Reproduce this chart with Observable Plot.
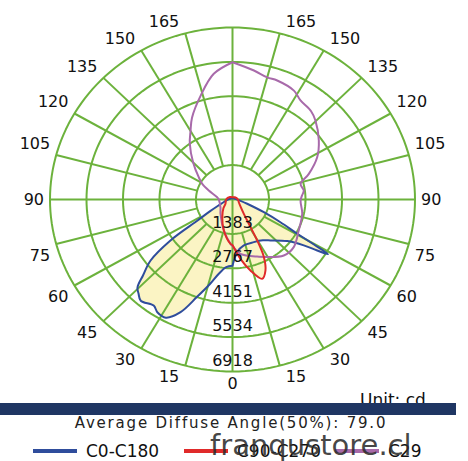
<!DOCTYPE html>
<html><head><meta charset="utf-8">
<script src="https://cdn.jsdelivr.net/npm/d3@7"></script>
<script src="https://cdn.jsdelivr.net/npm/@observablehq/plot@0.6"></script>
<style>
body{margin:0;background:#fff;font-family:"DejaVu Sans",Verdana,sans-serif;}
#wrap{position:relative;width:468px;height:461px;overflow:hidden;background:#fff;}
#chart{position:absolute;left:0;top:0;}
.abs{position:absolute;white-space:nowrap;}
.t17{font-size:17px;line-height:17px;color:#111;}
</style></head><body>
<div id="wrap">
  <div id="chart"></div>
  <div class="abs t17" id="unit" style="left:360px;top:391.5px;"></div>
  <div class="abs" style="left:0;top:403px;width:456px;height:12px;background:#1f3663;"></div>
  <div class="abs" id="avg" style="left:0;top:415.5px;width:462px;text-align:center;font-size:15px;line-height:15px;letter-spacing:1.8px;color:#222;"></div>
  <div id="legend"></div>
  <div class="abs" id="wm" style="left:210px;top:430.5px;font-size:29px;line-height:29px;color:rgba(45,45,45,0.88);"></div>
</div>
<script>
// ---- data ----
const maxCd = 6918;
const ringValues = [1383.6, 2767.2, 4150.8, 5534.4, 6918];
const ringLabels = ["1383", "2767", "4151", "5534", "6918"];
const spokeAngles = [15, 30, 45, 60, 75, 105, 120, 135, 150, 165];
const angleLabelsBottom = [15, 30, 45, 60, 75];
const angleLabelsTop = [105, 120, 135, 150, 165];
const seriesNames = ["C0-C180", "C90-C270", "C29"];
const seriesColors = ["#2f4d9c", "#e02a2a", "#a86aaa"];
const unitText = "Unit: cd";
const avgText = "Average Diffuse Angle(50%): 79.0";
const watermark = "franqustore.cl";

// C0 (right) / C180 (left)
const c0Angles  = [0, 4.8, 13.1, 25.2, 35, 41.2, 51.1, 55.7, 57.4, 58.7, 59.6, 60.7, 63.3, 66.7, 72.8, 80, 90, 120, 150, 180];
const c0Values  = [2663, 2124, 1896, 1896, 2006, 2186, 2663, 3272, 3812, 4234, 3597, 2816, 2034, 1294, 581, 311, 173, 83, 55, 42];
const c180Angles = [0, 5, 10, 14, 19, 23.5, 28, 32, 35, 40.5, 43.3, 45.5, 48, 51.7, 55, 57.5, 61, 65.6, 75, 90, 120, 150, 180];
const c180Values = [2663, 2733, 3044, 3494, 4151, 4939, 5382, 5361, 5209, 5355, 5195, 5050, 4566, 3957, 2871, 1570, 969, 581, 311, 173, 83, 55, 42];
// C90 (right) / C270 (left)
const c90Angles  = [0, 7.2, 13.4, 19.4, 23.6, 27.2, 29.2, 31.6, 36.7, 45, 65, 90, 135, 180];
const c90Values  = [1833, 2407, 2933, 3383, 3120, 2608, 2041, 1307, 719, 450, 263, 208, 125, 90];
const c270Angles = [0, 2.4, 14.8, 28.7, 45, 57, 90, 135, 180];
const c270Values = [1833, 1785, 1287, 809, 484, 318, 242, 138, 90];
// C29 (right) / opposite (left)
const c29Angles  = [0, 7.9, 22.2, 40.8, 50.5, 63.6, 77.7, 89, 93, 97.6, 103.7, 109.6, 117.9, 125.9, 135.3, 140, 147.1, 152, 160.5, 165, 171.1, 180];
const c29Values  = [1868, 2207, 2477, 2975, 3009, 2802, 2705, 2580, 2630, 2726, 2656, 3072, 3632, 4040, 4469, 4635, 4746, 4960, 5078, 5085, 5251, 5521];
const c209Angles = [0, 2.4, 14.8, 38.5, 54.5, 90, 98.8, 111.8, 118.7, 125, 135, 144.2, 150, 155, 164, 172, 180];
const c209Values = [1868, 1785, 1287, 733, 560, 519, 588, 969, 1307, 1563, 2110, 2767, 3182, 3632, 4358, 5105, 5521];

// ---- helpers ----
const rad = Math.PI / 180;
const pt = (side, g, v) => ({x: side * v * Math.sin(g * rad), y: -v * Math.cos(g * rad)});
function polygon(la, lv, ra, rv) {
  const p = [];
  for (let i = la.length - 1; i >= 0; i--) p.push(pt(-1, la[i], lv[i]));
  for (let i = 0; i < ra.length; i++) p.push(pt(1, ra[i], rv[i]));
  p.push(p[0]);
  return p;
}
const blue = polygon(c180Angles, c180Values, c0Angles, c0Values);
const red = polygon(c270Angles, c270Values, c90Angles, c90Values);
const purple = polygon(c209Angles, c209Values, c29Angles, c29Values);

const ringPts = ringValues.flatMap((r, k) => d3.range(0, 361, 2).map(a => ({ring: k, x: r * Math.sin(a * rad), y: r * Math.cos(a * rad)})));
const spokes = spokeAngles.flatMap(a => [-1, 1].map(s => ({
  x1: s * ringValues[0] * Math.sin(a * rad), y1: -ringValues[0] * Math.cos(a * rad),
  x2: s * maxCd * Math.sin(a * rad), y2: -maxCd * Math.cos(a * rad)})));

const green = "#6cb23c";
const yellow = "#fbf4c4";
const lab = {fontSize: 16, fill: "#111", fontFamily: "DejaVu Sans"};
const lx = (s) => (a) => s * maxCd * Math.sin(a * rad);
const ly = (a) => -maxCd * Math.cos(a * rad);

const chart = Plot.plot({
  width: 468, height: 400,
  x: {domain: [-maxCd, maxCd], range: [49.5, 414.5], axis: null},
  y: {domain: [-maxCd, maxCd], range: [371, 27], axis: null},
  style: {background: "#fff", overflow: "visible"},
  marks: [
    Plot.line(blue, {x: "x", y: "y", fill: yellow, stroke: "none", curve: "catmull-rom"}),
    Plot.line(red, {x: "x", y: "y", fill: yellow, stroke: "none", curve: "catmull-rom"}),
    Plot.line(ringPts, {x: "x", y: "y", z: "ring", stroke: green, strokeWidth: 2}),
    Plot.link(spokes, {x1: "x1", y1: "y1", x2: "x2", y2: "y2", stroke: green, strokeWidth: 2}),
    Plot.ruleX([0], {y1: -maxCd, y2: maxCd, stroke: green, strokeWidth: 2}),
    Plot.ruleY([0], {x1: -maxCd, x2: maxCd, stroke: green, strokeWidth: 2}),
    Plot.line(blue, {x: "x", y: "y", stroke: seriesColors[0], strokeWidth: 2, curve: "catmull-rom"}),
    Plot.line(purple, {x: "x", y: "y", stroke: seriesColors[2], strokeWidth: 2, curve: "catmull-rom"}),
    Plot.line(red, {x: "x", y: "y", stroke: seriesColors[1], strokeWidth: 2, curve: "catmull-rom"}),
    Plot.text(ringValues, {x: 0, y: d => -d, text: (d, i) => ringLabels[i], dy: -11, ...lab}),
    Plot.text(angleLabelsTop, {x: lx(-1), y: ly, text: d => String(d), textAnchor: "end", dx: -6, dy: -11.5, ...lab}),
    Plot.text(angleLabelsBottom, {x: lx(-1), y: ly, text: d => String(d), textAnchor: "end", dx: -6, dy: 11.5, ...lab}),
    Plot.text([90], {x: lx(-1), y: ly, text: d => String(d), textAnchor: "end", dx: -6, ...lab}),
    Plot.text(angleLabelsTop, {x: lx(1), y: ly, text: d => String(d), textAnchor: "start", dx: 6, dy: -11.5, ...lab}),
    Plot.text(angleLabelsBottom, {x: lx(1), y: ly, text: d => String(d), textAnchor: "start", dx: 6, dy: 11.5, ...lab}),
    Plot.text([90], {x: lx(1), y: ly, text: d => String(d), textAnchor: "start", dx: 6, ...lab}),
    Plot.text([0], {x: 0, y: ly, text: d => String(d), textAnchor: "middle", dy: 12, ...lab})
  ]
});
document.getElementById("chart").appendChild(chart);

document.getElementById("unit").textContent = unitText;
document.getElementById("avg").textContent = avgText;
document.getElementById("wm").textContent = watermark;
const legend = document.getElementById("legend");
seriesNames.forEach((name, i) => {
  const left = 33 + i * 151;
  const line = document.createElement("div");
  line.className = "abs";
  line.style.cssText = `left:${left}px;top:449px;width:44px;height:4px;background:${seriesColors[i]};`;
  legend.appendChild(line);
  const t = document.createElement("div");
  t.className = "abs t17";
  t.style.left = (left + 53) + "px";
  t.style.top = "443px";
  t.textContent = name;
  legend.appendChild(t);
});
</script>
</body></html>
